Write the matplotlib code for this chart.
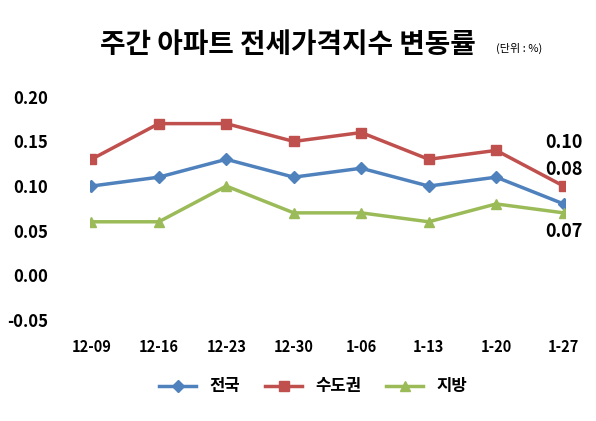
import matplotlib
matplotlib.use("Agg")
import matplotlib.pyplot as plt

plt.rcParams['font.family'] = ['Noto Sans CJK KR', 'DejaVu Sans']

weeks = ["12-09", "12-16", "12-23", "12-30", "1-06", "1-13", "1-20", "1-27"]
nation = [0.10, 0.11, 0.13, 0.11, 0.12, 0.10, 0.11, 0.08]
capital = [0.13, 0.17, 0.17, 0.15, 0.16, 0.13, 0.14, 0.10]
regional = [0.06, 0.06, 0.10, 0.07, 0.07, 0.06, 0.08, 0.07]

fig = plt.figure(figsize=(5.96, 4.21), dpi=100)
ax = fig.add_axes([0.151, 0.24, 0.797, 0.53])
x = range(len(weeks))
ax.plot(x, nation, color="#4F81BD", lw=2.5, marker="D", ms=6, label="전국")
ax.plot(x, capital, color="#C0504D", lw=2.5, marker="s", ms=7, label="수도권")
ax.plot(x, regional, color="#9BBB59", lw=2.5, marker="^", ms=7, label="지방")
ax.set_ylim(-0.05, 0.20)
ax.set_yticks([-0.05, 0, 0.05, 0.10, 0.15, 0.20])
ax.set_yticklabels([f"{v:.2f}" for v in [-0.05, 0, 0.05, 0.10, 0.15, 0.20]], fontweight="bold", fontsize=12)
ax.set_xlim(-0.02, 7.02)
ax.set_xticks(list(x))
ax.set_xticklabels(weeks, fontweight="bold", fontsize=10.5)
ax.tick_params(length=0, pad=14)
ax.tick_params(axis='y', pad=30)
for s in ax.spines.values():
    s.set_visible(False)
ax.text(7, capital[-1] + 0.043, f"{capital[-1]:.2f}", ha="center", fontsize=13, fontweight="bold")
ax.text(7, nation[-1] + 0.032, f"{nation[-1]:.2f}", ha="center", fontsize=13, fontweight="bold")
ax.text(7, regional[-1] - 0.010, f"{regional[-1]:.2f}", ha="center", va="top", fontsize=13, fontweight="bold")
fig.text(0.168, 0.893, "주간 아파트 전세가격지수 변동률", fontsize=20, fontweight="bold", va="center")
fig.text(0.833, 0.885, "(단위 : %)", fontsize=8, va="center")
ax.legend(loc="upper center", bbox_to_anchor=(0.47, -0.19), ncol=3, frameon=False,
          prop={'weight': 'bold', 'size': 12}, handlelength=2.2, columnspacing=1.5)
fig.savefig("out.png", dpi=100)
